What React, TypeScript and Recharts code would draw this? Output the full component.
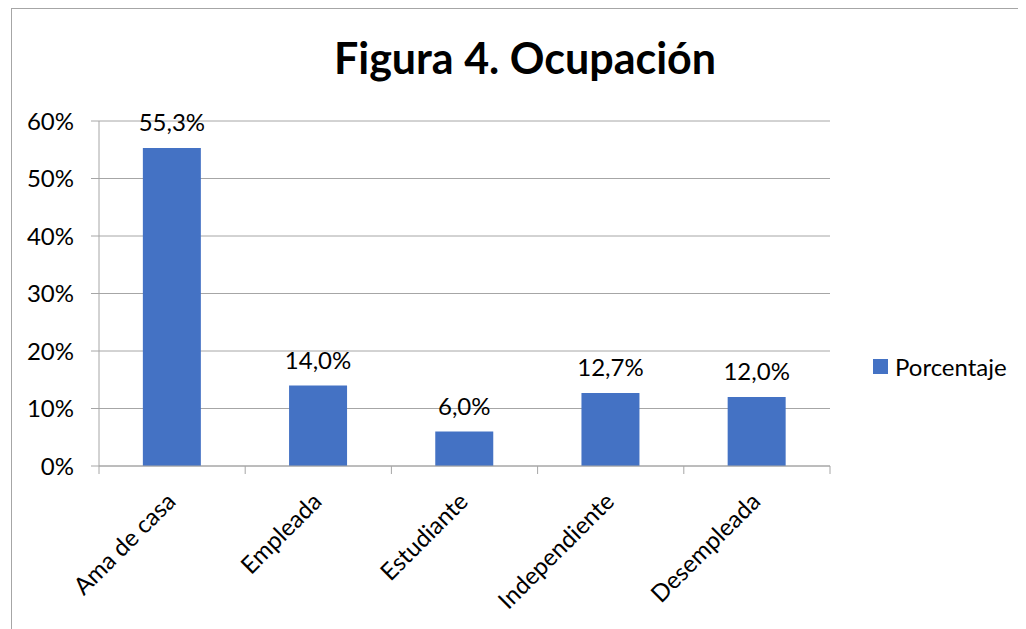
import React from 'react';
import { BarChart, Bar, XAxis, YAxis, CartesianGrid, LabelList } from 'recharts';

const categories = ['Ama de casa', 'Empleada', 'Estudiante', 'Independiente', 'Desempleada'];
const porcentaje = [55.3, 14.0, 6.0, 12.7, 12.0];
const yTicks = [0, 10, 20, 30, 40, 50, 60];

const data = categories.map((name, i) => ({ name, value: porcentaje[i] }));

const FONT = 'Lato, "Open Sans", sans-serif';
const BLUE = '#4472C4';
const GRID = '#a6a6a6';

// category ticks: line at the band edges, label rotated -45deg
const CategoryTick = (props: any) => {
  const { x, y, payload, index } = props;
  const half = payload.offset || 0;
  const last = index === categories.length - 1;
  return (
    <g>
      <line x1={x - half} y1={y} x2={x - half} y2={y + 8} stroke={GRID} />
      {last && <line x1={x + half} y1={y} x2={x + half} y2={y + 8} stroke={GRID} />}
      <text
        x={x + 5}
        y={y + 37}
        transform={`rotate(-45, ${x + 5}, ${y + 37})`}
        textAnchor="end"
        fontSize={24}
        fontFamily={FONT}
        fill="#000"
      >
        {payload.value}
      </text>
    </g>
  );
};

const fmt = (v: number) => `${v.toFixed(1).replace('.', ',')}%`;

export default function App() {
  return (
    <div
      style={{
        position: 'relative',
        marginLeft: 3,
        width: 1014,
        height: 620,
        borderLeft: '1px solid #a6a6a6',
        borderTop: '1px solid #a6a6a6',
        overflow: 'hidden',
      }}
    >
      <div
        style={{
          position: 'absolute',
          left: 0,
          width: 1026,
          top: 23,
          textAlign: 'center',
          fontFamily: FONT,
          fontWeight: 'bold',
          fontSize: 43,
          color: '#000',
        }}
      >
        Figura 4. Ocupación
      </div>
      <div
        style={{
          position: 'absolute',
          left: 861,
          top: 343,
          display: 'flex',
          alignItems: 'center',
          fontFamily: FONT,
          fontSize: 24,
          color: '#000',
        }}
      >
        <span style={{ width: 15, height: 15, background: BLUE, display: 'inline-block', marginRight: 7 }} />
        <span>Porcentaje</span>
      </div>
      <BarChart
        width={1014}
        height={620}
        data={data}
        margin={{ top: 112, right: 196, bottom: 0, left: 0 }}
        barCategoryGap="30%"
      >
        <CartesianGrid vertical={false} stroke={GRID} />
        <XAxis
          dataKey="name"
          height={163}
          interval={0}
          tickSize={0}
          tickMargin={0}
          tickLine={false}
          axisLine={{ stroke: GRID }}
          tick={<CategoryTick />}
        />
        <YAxis
          width={87}
          domain={[0, 60]}
          ticks={yTicks}
          tickFormatter={(v: number) => `${v}%`}
          tickSize={8}
          tickMargin={17}
          axisLine={{ stroke: GRID }}
          tickLine={{ stroke: GRID }}
          tick={{ fontSize: 24, fontFamily: FONT, fill: '#000' }}
        />
        <Bar dataKey="value" name="Porcentaje" fill={BLUE} isAnimationActive={false}>
          <LabelList
            dataKey="value"
            position="top"
            offset={17}
            formatter={(v: any) => fmt(Number(v))}
            style={{ fontSize: 24, fontFamily: FONT, fill: '#000' }}
          />
        </Bar>
      </BarChart>
    </div>
  );
}
